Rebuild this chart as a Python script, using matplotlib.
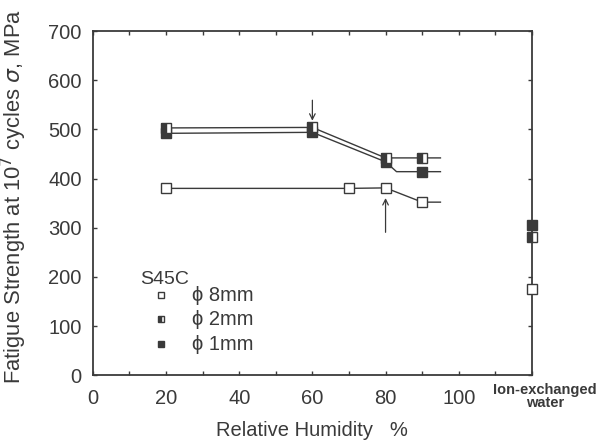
import matplotlib
matplotlib.use('Agg')
import matplotlib.pyplot as plt
from matplotlib.ticker import MultipleLocator

plt.rcParams['font.family'] = ['Liberation Sans', 'DejaVu Sans']

# phi 8mm
d8_x = [20, 70, 80, 90]
d8_y = [380, 380, 381, 352]
d8_line_x = [20, 70, 80, 90, 95]
d8_line_y = [380, 380, 381, 352, 352]

# phi 2mm
d2_x = [20, 60, 80, 90]
d2_y = [503, 504, 442, 442]
d2_line_x = [20, 60, 80, 90, 95]
d2_line_y = [503, 504, 442, 442, 442]

# phi 1mm
d1_x = [20, 60, 80, 90]
d1_y = [492, 494, 434, 414]
d1_line_x = [20, 60, 80, 83, 90, 95]
d1_line_y = [492, 494, 434, 414, 414, 414]

# ion-exchanged water (drawn on the right edge, x = 120)
ion_x = 120
ion_8 = 176
ion_2 = 281
ion_1 = 305

x_ticks = [0, 20, 40, 60, 80, 100]
y_ticks = [0, 100, 200, 300, 400, 500, 600, 700]
legend_labels = ['\u03d5 8mm', '\u03d5 2mm', '\u03d5 1mm']

ink = '#3a3a3a'

fig = plt.figure(figsize=(5.99, 4.44), dpi=100)
ax = fig.add_axes([0.155, 0.155, 0.733, 0.775])

ax.plot(d8_line_x, d8_line_y, color=ink, lw=1.0)
ax.plot(d2_line_x, d2_line_y, color=ink, lw=1.0)
ax.plot(d1_line_x, d1_line_y, color=ink, lw=1.0)

ms = 7
ax.plot(d1_x, d1_y, 's', ms=ms, mfc=ink, mec=ink, mew=1.0)
ax.plot(d2_x, d2_y, 's', ms=ms, fillstyle='left', mfc=ink, mfcalt='white', mec=ink, mew=1.0)
ax.plot(d8_x, d8_y, 's', ms=ms, mfc='white', mec=ink, mew=1.0)

ax.plot([ion_x], [ion_1], 's', ms=ms, mfc=ink, mec=ink, clip_on=False, zorder=5)
ax.plot([ion_x], [ion_2], 's', ms=ms, fillstyle='left', mfc=ink, mfcalt='white', mec=ink, clip_on=False, zorder=5)
ax.plot([ion_x], [ion_8], 's', ms=ms, mfc='white', mec=ink, clip_on=False, zorder=5)

# arrows
ax.annotate('', xy=(60, 512), xytext=(60, 565),
            arrowprops=dict(arrowstyle='->', color=ink, lw=0.9))
ax.annotate('', xy=(80, 366), xytext=(80, 285),
            arrowprops=dict(arrowstyle='->', color=ink, lw=0.9))

# legend block
ax.text(13, 194, 'S45C', fontsize=14, color=ink, va='center')
leg_y = [163, 114, 63]
ax.plot([18.5], [leg_y[0]], 's', ms=5, mfc='white', mec=ink)
ax.plot([18.5], [leg_y[1]], 's', ms=5, fillstyle='left', mfc=ink, mfcalt='white', mec=ink)
ax.plot([18.5], [leg_y[2]], 's', ms=5, mfc=ink, mec=ink)
for yy, lab in zip(leg_y, legend_labels):
    ax.text(27, yy, lab, fontsize=14.5, color=ink, va='center')

ax.set_xlim(0, 120)
ax.set_ylim(0, 700)
ax.set_xticks(x_ticks)
ax.set_yticks(y_ticks)
ax.xaxis.set_minor_locator(MultipleLocator(10))
ax.tick_params(which='both', direction='in', length=3, width=1, colors=ink,
               top=True, right=True, labelsize=14.5, labelcolor=ink)
ax.tick_params(axis='x', pad=10)
ax.tick_params(axis='y', pad=8)
for s in ax.spines.values():
    s.set_color(ink)
    s.set_linewidth(1.3)

ax.set_xlabel('Relative Humidity   %', fontsize=14.5, color=ink, labelpad=9)
ax.set_ylabel('Fatigue Strength at 10$^7$ cycles $\\sigma$, MPa', fontsize=15.8, color=ink)
ax.yaxis.set_label_coords(-0.145, 0.52)

ax.text(123.5, -0.061, 'Ion-exchanged\nwater', transform=ax.get_xaxis_transform(),
        ha='center', va='center', fontsize=10.5, fontweight='bold', color=ink,
        linespacing=0.9, clip_on=False)

fig.savefig('out.png', dpi=100)
